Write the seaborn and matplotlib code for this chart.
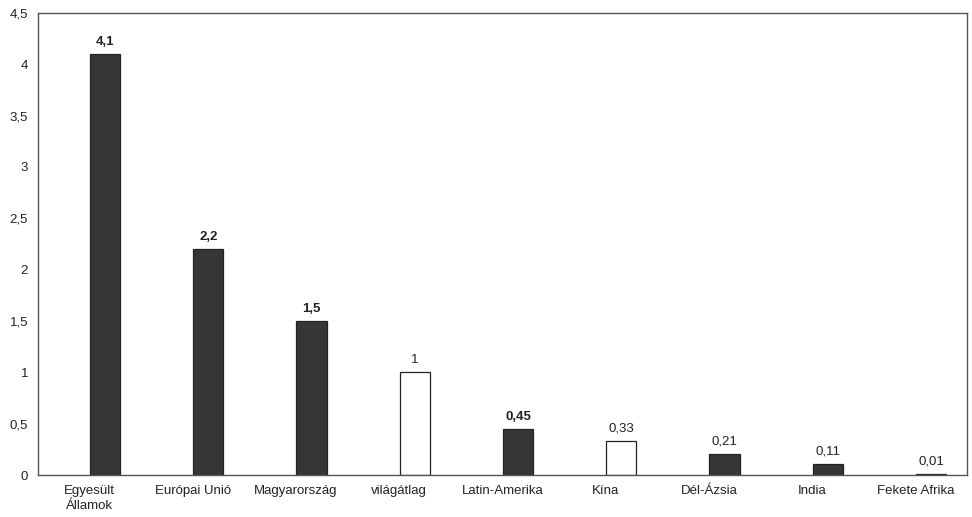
import matplotlib
matplotlib.use("Agg")
import matplotlib.pyplot as plt
from matplotlib.ticker import FuncFormatter, MultipleLocator
import seaborn as sns
import pandas as pd

# Per-capita figures by region
regions = ["Egyesült\nÁllamok", "Európai Unió", "Magyarország", "világátlag",
           "Latin-Amerika", "Kína", "Dél-Ázsia", "India", "Fekete Afrika"]
values = [4.1, 2.2, 1.5, 1.0, 0.45, 0.33, 0.21, 0.11, 0.01]
value_labels = ["4,1", "2,2", "1,5", "1", "0,45", "0,33", "0,21", "0,11", "0,01"]
reference_rows = ["világátlag", "Kína"]  # drawn as hollow bars

sns.set_style("white")
plt.rcParams["font.family"] = ["Liberation Sans", "DejaVu Sans"]

df = pd.DataFrame({"region": regions, "value": values})

fig = plt.figure(figsize=(9.72, 5.17), dpi=100)
ax = fig.add_axes([0.039, 0.081, 0.956, 0.894])

dark = "#363636"
palette = ["white" if r in reference_rows else dark for r in regions]
sns.barplot(data=df, x="region", y="value", hue="region", palette=palette,
            legend=False, width=0.295, edgecolor="#222222", linewidth=0.9,
            saturation=1, ax=ax)

# bars sit slightly right of the category centre
shift = 0.15
for p in ax.patches:
    p.set_x(p.get_x() + shift)

for i, (v, lab, r) in enumerate(zip(values, value_labels, regions)):
    bold = r not in reference_rows and v >= 0.4
    ax.annotate(lab, (i + shift, v), xytext=(0, 4.5), textcoords="offset points",
                ha="center", va="bottom", fontsize=9.5,
                fontweight="bold" if bold else "normal", color="#222222")

ax.set_ylim(0, 4.5)
ax.set_xlim(-0.5, len(regions) - 0.5)
ax.yaxis.set_major_locator(MultipleLocator(0.5))
ax.yaxis.set_major_formatter(FuncFormatter(lambda y, _: f"{y:g}".replace(".", ",")))
ax.set_xlabel("")
ax.set_ylabel("")

# tick marks at category boundaries, labels at centres
ax.set_xticks(range(len(regions)))
ax.set_xticklabels(regions, fontsize=9.5, color="#222222", linespacing=1.3)
ax.set_xticks([i - 0.5 for i in range(len(regions) + 1)], minor=True)
ax.tick_params(axis="x", which="major", length=0, pad=7)
ax.tick_params(axis="x", which="minor", length=3, direction="out", color="#555555")
ax.tick_params(axis="y", length=3, direction="out", color="#555555",
               labelsize=9.5, labelcolor="#222222", pad=4)

for s in ax.spines.values():
    s.set_visible(True)
    s.set_color("#555555")
    s.set_linewidth(1.0)

fig.savefig("out.png", dpi=100, facecolor="white")
